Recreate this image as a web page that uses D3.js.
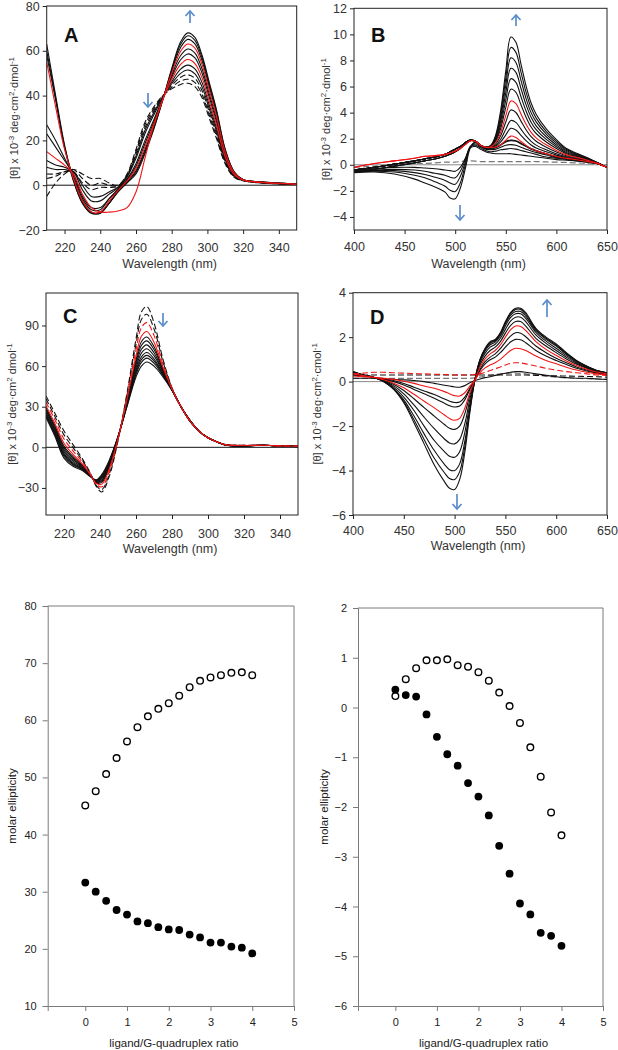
<!DOCTYPE html>
<html><head><meta charset="utf-8">
<script src="https://cdn.jsdelivr.net/npm/d3@7"></script>
<style>body{margin:0;background:#fff}svg{display:block}</style>
</head><body>
<svg id="c" width="618" height="1050"></svg>
<script>
// ---------- Panel A (210-350 nm) ----------
const wlA = [210,215,220,225,230,235,240,245,250,255,260,265,270,275,280,285,289,293,297,301,305,310,315,320,330,350];
const specA = [
 [-5,1,5,7,5,3,3,1,0,5,16,28,35,40,43,45,45.5,44,39,30,21,9.5,3.5,2,1,0.3],
 [3,4,6,7,3,0,1,0,-0.2,4.7,15.1,26.9,34.2,39.8,43.7,46.5,47.3,45.8,40.5,31.3,22,10,3.7,2,1,0.3],
 [5,5,6,6,1,-2,-1,-1,-0.5,4.3,14.1,25.6,33.3,39.7,44.5,48.2,49.3,47.7,42.2,32.7,23.2,10.6,3.9,2.1,1.1,0.3],
 [8,7,7,6,0,-5,-5,-3,-0.8,4,13.1,24.4,32.4,39.5,45.3,49.9,51.4,49.7,43.9,34.2,24.4,11.2,4.2,2.1,1.1,0.35],
 [11,9,8,6,-2,-7,-7,-4,-1.1,3.6,12,23,31.4,39.3,46.2,51.8,53.6,51.9,45.8,35.8,25.7,11.8,4.4,2.2,1.2,0.4],
 [15,12,9,5,-4,-10,-12,-12,-11.5,-10,-3,12,27,38,47.2,53.9,56.1,54.3,47.9,37.5,27.1,12.6,4.7,2.2,1.2,0.4],
 [23,17,11,5,-5,-10,-10,-6,-1.7,2.7,9.6,19.9,29.2,38.8,48.2,56,58.6,56.8,50,39.3,28.5,13.3,5,2.3,1.3,0.4],
 [27,20,12,4,-6,-11,-11,-6,-2,2.3,8.5,18.5,28.2,38.6,49.1,57.9,60.8,59,51.9,40.9,29.8,13.9,5.2,2.3,1.3,0.4],
 [55,35,16,3,-7,-12,-12,-7,-2.3,1.9,7.4,17.1,27.2,38.4,50,59.8,63,61.2,53.8,42.5,31.1,14.6,5.5,2.4,1.4,0.45],
 [58,38,17,3,-7,-12,-12.5,-8,-2.6,1.5,6.4,15.8,26.3,38.3,50.8,61.5,65.1,63.1,55.5,43.9,32.3,15.2,5.7,2.4,1.4,0.45],
 [60,39,17,2,-8,-12.5,-12.5,-8,-2.8,1.2,5.7,14.8,25.6,38.1,51.5,62.9,66.7,64.7,56.9,45,33.2,15.6,5.9,2.5,1.5,0.5],
 [63,40,18,2,-8,-12.5,-12,-8,-3,1,5,14,25,38,52,64,68,66,58,46,34,16,6,2.5,1.5,0.5]
];
const kindsA = ["dash","dash","dash","solid","solid","red","solid","solid","red","solid","solid","solid"];
const xTicksA = [220,240,260,280,300,320,340];
const yTicksA = [-20,0,20,40,60,80];

// ---------- Panel B (400-650 nm) ----------
const wlB = [400,420,440,460,470,480,490,495,500,505,510,515,520,525,530,535,540,545,550,555,560,565,570,575,580,590,600,610,620,630,640,650];
const specB = [
 [-0.2,-0.1,0,0.1,0.1,0.15,0.2,0.2,0.2,0.25,0.3,0.3,0.28,0.25,0.25,0.25,0.25,0.25,0.25,0.25,0.25,0.25,0.25,0.25,0.25,0.22,0.2,0.18,0.15,0.1,0.05,0],
 [-0.4,-0.3,-0.2,-0.2,-0.25,-0.3,-0.4,-0.45,-0.5,-0.2,0.5,1.3,1.4,1.2,1.0,0.9,0.85,0.85,0.85,0.85,0.8,0.75,0.7,0.65,0.6,0.5,0.4,0.35,0.3,0.2,0.1,-0.2],
 [-0.5,-0.4,-0.35,-0.4,-0.5,-0.65,-0.8,-0.95,-1.0,-0.5,0.4,1.4,1.5,1.3,1.1,1.0,1.05,1.15,1.2,1.25,1.2,1.1,1.0,0.9,0.8,0.6,0.5,0.4,0.3,0.2,0.1,-0.2],
 [-0.5,-0.45,-0.45,-0.6,-0.75,-0.95,-1.2,-1.4,-1.5,-0.9,0.2,1.4,1.6,1.4,1.2,1.15,1.2,1.35,1.5,1.55,1.5,1.35,1.2,1.05,0.95,0.75,0.55,0.45,0.35,0.25,0.1,-0.2],
 [-0.55,-0.5,-0.55,-0.8,-1.0,-1.3,-1.65,-1.95,-2.05,-1.4,0,1.4,1.7,1.45,1.25,1.2,1.3,1.5,1.75,1.85,1.8,1.6,1.4,1.2,1.05,0.85,0.6,0.5,0.4,0.25,0.1,-0.2],
 [-0.6,-0.55,-0.7,-1.1,-1.4,-1.7,-2.1,-2.55,-2.6,-1.8,-0.3,1.3,1.75,1.5,1.3,1.25,1.35,1.55,1.8,1.9,1.85,1.65,1.45,1.25,1.1,0.85,0.65,0.5,0.4,0.25,0.1,-0.2],
 [-0.2,0.1,0.3,0.5,0.65,0.7,0.8,0.9,1.05,1.25,1.55,1.85,1.8,1.5,1.35,1.33,1.37,1.54,1.88,2.2,2.09,1.79,1.49,1.24,1.07,0.85,0.64,0.49,0.39,0.26,0.11,-0.2],
 [-0.5,-0.35,-0.1,0.15,0.3,0.45,0.65,0.8,1.0,1.25,1.6,1.85,1.8,1.5,1.3,1.34,1.44,1.75,2.3,2.8,2.67,2.26,1.85,1.52,1.29,1.0,0.74,0.55,0.43,0.28,0.12,-0.2],
 [-0.5,-0.35,-0.1,0.15,0.3,0.45,0.65,0.8,1.0,1.25,1.6,1.85,1.8,1.5,1.3,1.35,1.51,1.96,2.72,3.4,3.25,2.73,2.21,1.8,1.51,1.15,0.84,0.61,0.47,0.3,0.13,-0.2],
 [-0.4,-0.2,0.05,0.3,0.45,0.6,0.8,1.0,1.2,1.4,1.7,1.9,1.8,1.5,1.35,1.37,1.61,2.24,3.28,4.2,4.01,3.35,2.69,2.16,1.81,1.35,0.98,0.69,0.52,0.34,0.13,-0.2],
 [-0.2,0.1,0.3,0.5,0.65,0.7,0.8,0.9,1.05,1.25,1.55,1.85,1.8,1.5,1.35,1.38,1.69,2.49,3.77,4.9,4.69,3.9,3.11,2.49,2.07,1.53,1.1,0.76,0.57,0.36,0.14,-0.2],
 [-0.4,-0.2,0.05,0.3,0.45,0.6,0.8,1.0,1.2,1.4,1.7,1.9,1.8,1.5,1.35,1.4,1.8,2.8,4.4,5.8,5.55,4.6,3.65,2.9,2.4,1.75,1.25,0.85,0.63,0.4,0.15,-0.2],
 [-0.5,-0.35,-0.1,0.15,0.3,0.45,0.65,0.8,1.0,1.25,1.6,1.85,1.8,1.5,1.3,1.42,1.9,3.08,4.96,6.6,6.32,5.22,4.13,3.27,2.7,1.95,1.39,0.93,0.68,0.43,0.16,-0.2],
 [-0.4,-0.2,0.05,0.3,0.45,0.6,0.8,1.0,1.2,1.4,1.7,1.9,1.8,1.5,1.35,1.43,1.99,3.36,5.52,7.4,7.09,5.85,4.61,3.64,2.99,2.15,1.52,1.01,0.73,0.46,0.17,-0.2],
 [-0.4,-0.2,0.05,0.3,0.45,0.6,0.8,1.0,1.2,1.4,1.7,1.9,1.8,1.5,1.35,1.45,2.09,3.64,6.08,8.2,7.85,6.47,5.09,4.0,3.29,2.35,1.66,1.09,0.78,0.5,0.17,-0.2],
 [-0.4,-0.2,0.05,0.3,0.45,0.6,0.8,1.0,1.2,1.4,1.7,1.9,1.8,1.5,1.35,1.46,2.18,3.92,6.64,9.0,8.62,7.1,5.57,4.37,3.58,2.55,1.79,1.17,0.83,0.53,0.18,-0.2],
 [-0.4,-0.2,0.05,0.3,0.45,0.6,0.8,1.0,1.2,1.4,1.7,1.9,1.8,1.5,1.35,1.48,2.28,4.2,7.2,9.8,9.39,7.72,6.05,4.74,3.88,2.75,1.93,1.25,0.89,0.56,0.19,-0.2]
];
const kindsB = ["greydash","solid","solid","solid","solid","solid","red","solid","solid","solid","red","solid","solid","solid","solid","solid","solid"];
const xTicksB = [400,450,500,550,600,650];
const yTicksB = [-4,-2,0,2,4,6,8,10,12];

// ---------- Panel C (210-350 nm) ----------
const wlC = [210,215,220,225,230,235,238,241,245,250,255,260,263,266,270,275,280,285,290,295,300,305,310,320,330,340,350];
const specC = [
 [38,25,12,2,-8,-20,-29,-33,-22,5,40,80,100,104,92,65,44,30,19,12,7,4,2,1.5,1.5,1.2,1],
 [35.8,22.6,9.2,-0.2,-9.3,-20.3,-28.3,-31.2,-20.3,5.4,38.6,76.1,94.4,98.3,87.5,63.2,43.7,30,19.1,12,7,4,1.9,1.4,1.5,1.2,0.9],
 [33.4,20.1,6.2,-2.6,-10.6,-20.6,-27.6,-29.2,-18.5,5.9,37.1,71.9,88.4,92.1,82.7,61.2,43.4,30,19.3,12,7,4,1.9,1.4,1.5,1.1,0.9],
 [30.8,17.4,3,-5.2,-12.1,-20.9,-26.8,-27.2,-16.6,6.4,35.5,67.4,82,85.6,77.6,59.2,43.1,30,19.5,12,7,4,1.8,1.3,1.5,1.1,0.8],
 [29.2,15.7,1,-6.8,-13,-21.1,-26.3,-25.9,-15.4,6.7,34.5,64.6,78,81.5,74.4,57.9,42.9,30,19.6,12,7,4,1.7,1.2,1.5,1.1,0.7],
 [28.1,14.5,-0.4,-7.9,-13.6,-21.2,-25.9,-24.9,-14.6,6.9,33.8,62.6,75.2,78.6,72.2,56.9,42.8,30,19.6,12,7,4,1.7,1.2,1.5,1.1,0.7],
 [27,13.3,-1.8,-9,-14.2,-21.4,-25.6,-24,-13.7,7.1,33.1,60.7,72.4,75.7,69.9,56,42.6,30,19.7,12,7,4,1.7,1.2,1.5,1.1,0.7],
 [25.8,12.1,-3.2,-10.2,-14.8,-21.5,-25.2,-23.1,-12.9,7.3,32.4,58.7,69.6,72.8,67.7,55.1,42.5,30,19.8,12,7,4,1.6,1.1,1.5,1.05,0.6],
 [24.7,10.9,-4.6,-11.3,-15.5,-21.7,-24.9,-22.2,-12,7.5,31.7,56.8,66.8,70,65.4,54.2,42.3,30,19.8,12,7,4,1.6,1.1,1.5,1,0.6],
 [23.9,10,-5.6,-12.1,-15.9,-21.8,-24.6,-21.6,-11.4,7.6,31.2,55.4,64.8,67.9,63.8,53.6,42.2,30,19.9,12,7,4,1.6,1.1,1.5,1,0.6],
 [23.1,9.2,-6.6,-12.9,-16.4,-21.9,-24.4,-20.9,-10.8,7.8,30.7,54,62.8,65.9,62.2,52.9,42.1,30,19.9,12,7,4,1.5,1,1.5,1,0.5],
 [22,8,-8,-14,-17,-22,-24,-20,-10,8,30,52,60,63,60,52,42,30,20,12,7,4,1.5,1,1.5,1,0.5]
];
const kindsC = ["dash","dash","reddash","red","solid","solid","solid","solid","solid","solid","solid","solid"];
const xTicksC = [220,240,260,280,300,320,340];
const yTicksC = [-30,0,30,60,90];

// ---------- Panel D (400-650 nm) ----------
const wlD = [400,410,420,430,440,450,460,470,480,490,495,500,505,510,515,520,525,530,535,540,545,550,555,560,565,570,580,590,600,610,620,630,640,650];
const specD = [
 [0.3,0.3,0.3,0.3,0.3,0.3,0.3,0.3,0.3,0.3,0.3,0.3,0.3,0.3,0.3,0.3,0.3,0.3,0.3,0.3,0.3,0.3,0.3,0.3,0.3,0.3,0.28,0.27,0.26,0.25,0.24,0.23,0.22,0.2],
 [0.15,0.15,0.15,0.15,0.15,0.15,0.15,0.15,0.15,0.15,0.15,0.15,0.15,0.15,0.15,0.17,0.2,0.24,0.28,0.32,0.35,0.37,0.38,0.38,0.37,0.35,0.3,0.25,0.2,0.17,0.15,0.13,0.12,0.1],
 [0.15,0.15,0.15,0.12,0.1,0.08,0.05,0.0,-0.08,-0.16,-0.2,-0.24,-0.25,-0.18,-0.05,0.05,0.12,0.18,0.22,0.28,0.33,0.38,0.42,0.45,0.45,0.42,0.35,0.28,0.22,0.18,0.15,0.15,0.12,0.1],
 [0.35,0.38,0.42,0.42,0.4,0.38,0.36,0.35,0.33,0.32,0.31,0.3,0.3,0.3,0.3,0.32,0.36,0.42,0.5,0.58,0.66,0.75,0.82,0.85,0.84,0.8,0.7,0.6,0.52,0.45,0.4,0.35,0.3,0.28],
 [0.25,0.22,0.2,0.15,0.1,0.02,-0.08,-0.2,-0.3,-0.45,-0.55,-0.63,-0.65,-0.5,-0.2,0.08,0.4,0.62,0.75,0.85,1.0,1.2,1.4,1.5,1.48,1.4,1.15,0.95,0.8,0.65,0.52,0.42,0.35,0.3],
 [0.3,0.25,0.2,0.12,0.05,-0.08,-0.25,-0.42,-0.58,-0.78,-0.88,-0.94,-0.92,-0.7,-0.3,0.08,0.5,0.8,0.98,1.1,1.3,1.55,1.78,1.9,1.88,1.75,1.4,1.15,0.95,0.77,0.6,0.48,0.38,0.32],
 [0.32,0.26,0.2,0.1,0.0,-0.15,-0.35,-0.55,-0.75,-0.97,-1.08,-1.14,-1.1,-0.82,-0.35,0.08,0.55,0.9,1.1,1.25,1.48,1.78,2.05,2.2,2.18,2.02,1.6,1.3,1.05,0.85,0.66,0.52,0.4,0.33],
 [0.35,0.27,0.2,0.08,-0.07,-0.28,-0.57,-0.88,-1.18,-1.5,-1.66,-1.74,-1.65,-1.2,-0.5,0.08,0.65,1.02,1.25,1.4,1.65,2.0,2.33,2.5,2.48,2.3,1.8,1.45,1.18,0.93,0.72,0.56,0.43,0.35],
 [0.37,0.28,0.2,0.06,-0.12,-0.4,-0.77,-1.17,-1.55,-1.93,-2.1,-2.15,-2.0,-1.45,-0.62,0.08,0.75,1.15,1.4,1.55,1.8,2.18,2.52,2.7,2.7,2.5,1.95,1.6,1.3,1.02,0.78,0.6,0.45,0.37],
 [0.4,0.29,0.2,0.04,-0.18,-0.55,-1.05,-1.6,-2.12,-2.58,-2.76,-2.8,-2.6,-1.9,-0.8,0.08,0.85,1.28,1.55,1.68,1.95,2.35,2.72,2.9,2.9,2.7,2.1,1.72,1.4,1.1,0.83,0.63,0.47,0.38],
 [0.42,0.3,0.2,0.03,-0.25,-0.7,-1.3,-2.0,-2.65,-3.15,-3.36,-3.4,-3.15,-2.3,-1.0,0.08,0.92,1.38,1.65,1.78,2.05,2.5,2.88,3.05,3.05,2.85,2.22,1.82,1.5,1.17,0.87,0.66,0.48,0.39],
 [0.43,0.3,0.2,0.02,-0.3,-0.82,-1.55,-2.35,-3.1,-3.72,-3.96,-4.0,-3.7,-2.7,-1.2,0.08,0.96,1.44,1.72,1.84,2.12,2.6,2.98,3.15,3.15,2.95,2.3,1.9,1.6,1.23,0.9,0.68,0.49,0.4],
 [0.44,0.3,0.2,0.01,-0.33,-0.9,-1.72,-2.6,-3.45,-4.1,-4.36,-4.4,-4.05,-2.95,-1.3,0.09,0.98,1.47,1.76,1.87,2.16,2.65,3.05,3.25,3.25,3.03,2.35,1.95,1.65,1.27,0.93,0.69,0.5,0.4],
 [0.45,0.3,0.2,0,-0.35,-0.95,-1.85,-2.8,-3.75,-4.5,-4.8,-4.85,-4.4,-3.2,-1.4,0.1,1.0,1.5,1.8,1.9,2.2,2.7,3.1,3.3,3.3,3.1,2.4,2.0,1.7,1.3,0.95,0.7,0.5,0.4]
];
const kindsD = ["dash","greydash","solid","reddash","red","solid","solid","red","solid","solid","solid","solid","solid","solid"];
const xTicksD = [400,450,500,550,600,650];
const yTicksD = [-6,-4,-2,0,2,4];

// ---------- Titration plots ----------
const ratio = [0,0.25,0.5,0.75,1,1.25,1.5,1.75,2,2.25,2.5,2.75,3,3.25,3.5,3.75,4];
const leftOpen = [45.1,47.6,50.6,53.4,56.3,58.8,60.7,62.0,63.0,64.3,65.8,66.9,67.5,67.9,68.3,68.4,67.9];
const leftFilled = [31.6,30.0,28.4,26.8,26.0,24.8,24.5,23.8,23.4,23.3,22.5,22.0,21.1,21.1,20.4,20.2,19.2];
const rightOpen = [0.23,0.57,0.79,0.95,0.95,0.97,0.85,0.82,0.71,0.54,0.30,0.03,-0.31,-0.80,-1.39,-2.11,-2.57];
const rightFilled = [0.36,0.25,0.22,-0.14,-0.59,-0.94,-1.17,-1.52,-1.79,-2.17,-2.78,-3.34,-3.94,-4.16,-4.53,-4.59,-4.79];
const ratioTicks = [0,1,2,3,4,5];
const leftYTicks = [10,20,30,40,50,60,70,80];
const rightYTicks = [-6,-5,-4,-3,-2,-1,0,1,2];

// ================= drawing =================
const svg = d3.select("#c");
const FONT = "'Liberation Sans', Arial, Helvetica, sans-serif";
const RED = "#f01414";
const BLUE = "#5a8ccb";
let clipN = 0;

function yTitle(x, yc, parts, size) {
  const t = svg.append("text")
    .attr("transform", `translate(${x},${yc}) rotate(-90)`)
    .attr("text-anchor", "middle")
    .style("font-family", FONT).style("font-size", size + "px").style("fill", "#333");
  let prevSup = false;
  parts.forEach(([s, sup]) => {
    const sp = t.append("tspan").text(s);
    if (sup) { sp.style("font-size", (size - 3) + "px").attr("dy", prevSup ? 0 : -4); }
    else if (prevSup) { sp.attr("dy", 4); }
    prevSup = sup;
  });
}

function arrow(x, yFrom, yTo) {
  const g = svg.append("g").style("stroke", BLUE).style("stroke-width", 1.7).style("fill", "none");
  g.append("line").attr("x1", x).attr("x2", x).attr("y1", yFrom).attr("y2", yTo);
  const d = yTo < yFrom ? 1 : -1;
  g.append("path").attr("d", `M${x-4.5},${yTo + d*5} L${x},${yTo} L${x+4.5},${yTo + d*5}`);
}

function spectrum(o) {
  const x = d3.scaleLinear().domain(o.xd).range([o.L, o.R]);
  const y = d3.scaleLinear().domain(o.yd).range([o.B, o.T]);
  const id = "clip" + (clipN++);
  svg.append("clipPath").attr("id", id).append("rect")
    .attr("x", o.L).attr("y", o.T).attr("width", o.R - o.L).attr("height", o.B - o.T);
  const g = svg.append("g").attr("clip-path", `url(#${id})`);
  g.append("line").attr("x1", o.L).attr("x2", o.R).attr("y1", y(0)).attr("y2", y(0))
    .style("stroke", o.zeroColor).style("stroke-width", 1);
  const line = d3.line().x((d, i) => x(o.wl[i])).y(d => y(d)).curve(d3.curveCatmullRom.alpha(0.5));
  const order = ["greydash", "dash", "solid", "reddash", "red"];
  const style = {
    solid: ["#111", null, 1.1], dash: ["#111", "6,3", 1.1], greydash: ["#777", "6,3", 1.2],
    red: [RED, null, 1.1], reddash: [RED, "6,3", 1.1]
  };
  order.forEach(k => {
    o.series.forEach((s, i) => {
      if (o.kinds[i] !== k) return;
      g.append("path").attr("d", line(s)).style("fill", "none")
        .style("stroke", style[k][0]).style("stroke-width", style[k][2])
        .style("stroke-dasharray", style[k][1]);
    });
  });
  svg.append("rect").attr("x", o.L).attr("y", o.T).attr("width", o.R - o.L).attr("height", o.B - o.T)
    .style("fill", "none").style("stroke", "#222").style("stroke-width", 1);
  const ax = svg.append("g").attr("transform", `translate(0,${o.B})`)
    .call(d3.axisBottom(x).tickValues(o.xt).tickSize(4).tickPadding(o.xPad).tickFormat(d3.format("d")));
  const ay = svg.append("g").attr("transform", `translate(${o.L},0)`)
    .call(d3.axisLeft(y).tickValues(o.yt).tickSize(4).tickPadding(3).tickFormat(d3.format("d")));
  [ax, ay].forEach(a => {
    a.select(".domain").remove();
    a.selectAll("line").style("stroke", "#222");
    a.selectAll("text").style("font-family", FONT).style("font-size", "12.5px").style("fill", "#333");
  });
  svg.append("text").attr("x", (o.L + o.R) / 2 - 2).attr("y", o.xTitleY).attr("text-anchor", "middle")
    .style("font-family", FONT).style("font-size", "12.5px").style("fill", "#333").text("Wavelength (nm)");
  yTitle(o.yTitleX, (o.T + o.B) / 2, o.yTitle, 11);
  svg.append("text").attr("x", o.letter[1]).attr("y", o.letter[2])
    .style("font-family", FONT).style("font-size", "20px").style("font-weight", "bold").style("fill", "#111")
    .text(o.letter[0]);
}

const titleD = [["[θ] x 10", false], ["-3", true], [" deg·cm", false], ["2", true], ["·dmol", false], ["-1", true]];

spectrum({L: 46.7, R: 296.7, T: 6, B: 230, xd: [210, 350], yd: [-20, 80], wl: wlA, series: specA, kinds: kindsA,
  xt: xTicksA, yt: yTicksA, xPad: 9, xTitleY: 268, yTitleX: 18, yTitle: titleD, letter: ["A", 64, 42], zeroColor: "#111"});
spectrum({L: 354, R: 607, T: 8.3, B: 230, xd: [400, 650], yd: [-5, 12], wl: wlB, series: specB, kinds: kindsB,
  xt: xTicksB, yt: yTicksB, xPad: 8, xTitleY: 268, yTitleX: 330, yTitle: titleD, letter: ["B", 371, 42], zeroColor: "#888"});
spectrum({L: 46, R: 298, T: 293, B: 515, xd: [210, 350], yd: [-50, 114], wl: wlC, series: specC, kinds: kindsC,
  xt: xTicksC, yt: yTicksC, xPad: 10, xTitleY: 553, yTitleX: 16,
  yTitle: [["[θ] x 10", false], ["-3", true], [" deg·cm", false], ["2", true], [" dmol", false], ["-1", true]],
  letter: ["C", 63, 323], zeroColor: "#111"});
spectrum({L: 353, R: 607, T: 292.7, B: 515, xd: [400, 650], yd: [-6, 4], wl: wlD, series: specD, kinds: kindsD,
  xt: xTicksD, yt: yTicksD, xPad: 7, xTitleY: 550, yTitleX: 321,
  yTitle: [["[θ] x 10", false], ["-3", true], [" deg·cm", false], ["2", true], ["·cmol", false], ["-1", true]],
  letter: ["D", 370, 324], zeroColor: "#888"});

arrow(190, 23, 11); arrow(148, 93, 107);
arrow(516, 26, 15); arrow(460, 205, 220);
arrow(163, 313, 326);
arrow(547, 317, 300); arrow(457, 494, 509);

function scatter(o) {
  const x = d3.scaleLinear().domain([-0.9, 5]).range([o.L, o.R]);
  const y = d3.scaleLinear().domain(o.yd).range([o.B, o.T]);
  const g = svg.append("g");
  g.append("path").attr("d", `M${o.L},${o.T}H${o.R}V${o.B}`).style("fill", "none").style("stroke", "#7a7a7a");
  const ax = g.append("g").attr("transform", `translate(0,${o.B})`)
    .call(d3.axisBottom(x).tickValues(ratioTicks).tickSize(5).tickPadding(7).tickFormat(d3.format("d")));
  const ay = g.append("g").attr("transform", `translate(${o.L},0)`)
    .call(d3.axisLeft(y).tickValues(o.yt).tickSize(5).tickPadding(6).tickFormat(d3.format("d")));
  [ax, ay].forEach(a => {
    a.select(".domain").style("stroke", "#7a7a7a");
    a.selectAll("line").style("stroke", "#7a7a7a");
    a.selectAll("text").style("font-family", FONT).style("font-size", "11px").style("fill", "#222");
  });
  g.selectAll(".op").data(o.open).join("circle").attr("cx", (d, i) => x(ratio[i])).attr("cy", d => y(d))
    .attr("r", 3.3).style("fill", "#fff").style("stroke", "#000").style("stroke-width", 1.4);
  g.selectAll(".fl").data(o.filled).join("circle").attr("cx", (d, i) => x(ratio[i])).attr("cy", d => y(d))
    .attr("r", 3.9).style("fill", "#000");
  g.append("text").attr("x", (o.L + o.R) / 2 + 3).attr("y", 1047).attr("text-anchor", "middle")
    .style("font-family", FONT).style("font-size", "11.5px").style("fill", "#222").text("ligand/G-quadruplex ratio");
  g.append("text").attr("transform", `translate(${o.yTitleX},${(o.T + o.B) / 2}) rotate(-90)`).attr("text-anchor", "middle")
    .style("font-family", FONT).style("font-size", "11.5px").style("fill", "#222").text("molar ellipticity");
}
scatter({L: 47.7, R: 294, T: 606, B: 1006, yd: [10, 80], yt: leftYTicks, open: leftOpen, filled: leftFilled, yTitleX: 16});
scatter({L: 358, R: 603, T: 608, B: 1006, yd: [-6, 2], yt: rightYTicks, open: rightOpen, filled: rightFilled, yTitleX: 328});
</script>
</body></html>
